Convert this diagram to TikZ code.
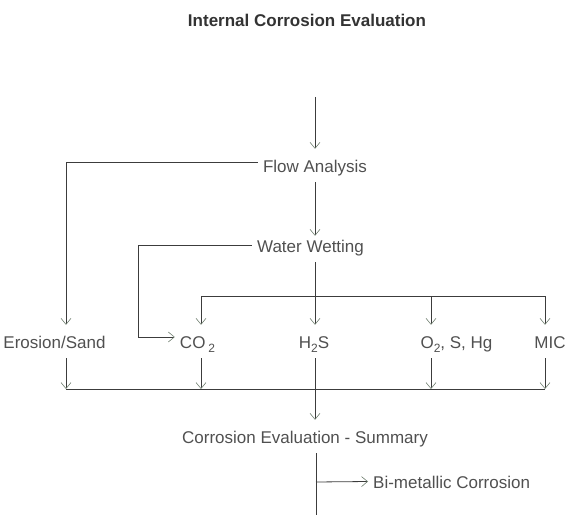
\documentclass[tikz,border=0pt]{standalone}
\usepackage{fontspec}
\setmainfont{Liberation Sans}
\usetikzlibrary{arrows.meta}
\definecolor{linegray}{HTML}{3C3C3C}
\definecolor{tipgray}{HTML}{6E7E6E}
\definecolor{textgray}{HTML}{505050}
\definecolor{titlegray}{HTML}{333333}
\newcommand{\lowsub}[1]{\raisebox{-4pt}{\fontsize{12}{12}\selectfont #1}}
\tikzset{
  lbl/.style={anchor=base,text=textgray,font=\fontsize{17}{20}\selectfont,
    text height=14pt,text depth=1pt,inner ysep=9pt,inner xsep=5pt},
  wire/.style={draw=linegray,line width=0.8pt},
  arr/.style={wire,-{Straight Barb[length=6pt,width=10pt,line width=0.6pt,color=tipgray]}}
}

\begin{document}
\begin{tikzpicture}[x=1pt,y=-1pt]
  \useasboundingbox (0,0) rectangle (582,527);
  \node[lbl,font=\fontsize{17}{20}\selectfont\bfseries,text=titlegray] (title) at (307,27) {Internal Corrosion Evaluation};
  \node[lbl] (flow) at (315,172) {Flow Analysis};
  \node[lbl] (water) at (310.5,252) {Water Wetting};
  \node[lbl] (erosion) at (54.5,348) {Erosion/Sand};
  \node[lbl] (co2) at (197.5,348) {CO\,\lowsub{2}};
  \node[lbl] (h2s) at (314,348) {H\lowsub{2}S};
  \node[lbl] (o2) at (456.5,348) {O\lowsub{2}, S, Hg};
  \node[lbl] (mic) at (550,348) {MIC};
  \node[lbl] (summary) at (305,443) {Corrosion Evaluation - Summary};
  \node[lbl,anchor=base west] (bimetal) at (368,488) {Bi-metallic Corrosion};

  \coordinate (start) at (315,97);
  \coordinate (wbend) at (138,337);
  \coordinate (colco) at (201,296);
  \coordinate (colo) at (431,296);
  \coordinate (colm) at (545,296);
  \coordinate (busL) at (66,389);
  \coordinate (fork) at (316,482);
  \coordinate (tail) at (316,515);

  \draw[arr] (start) -- (flow.north -| start);
  \draw[arr,shorten >=-7pt] (flow.south -| start) -- (water.north -| start);
  \draw[arr] ([yshift=3pt]flow.west) -| (erosion.north -| busL);
  \draw[arr] (water.west) -| (wbend) -- (co2.west |- wbend);
  \draw[arr] (water.south -| start) -- (h2s.north -| start);
  \draw[wire] (colco) -- (colm);
  \foreach \c/\n in {colco/co2,colo/o2,colm/mic} {
    \draw[arr] (\c) -- (\n.north -| \c);
  }
  \foreach \c/\n in {busL/erosion,colco/co2,colo/o2,colm/mic} {
    \draw[arr] (\n.south -| \c) -- (\c |- busL);
  }
  \draw[wire] (busL) -- (colm |- busL);
  \draw[arr] (h2s.south -| start) -- (summary.north -| start);
  \draw[wire] (summary.south -| fork) -- (tail);
  \draw[arr] (fork) -- (bimetal.west);
\end{tikzpicture}
\end{document}
